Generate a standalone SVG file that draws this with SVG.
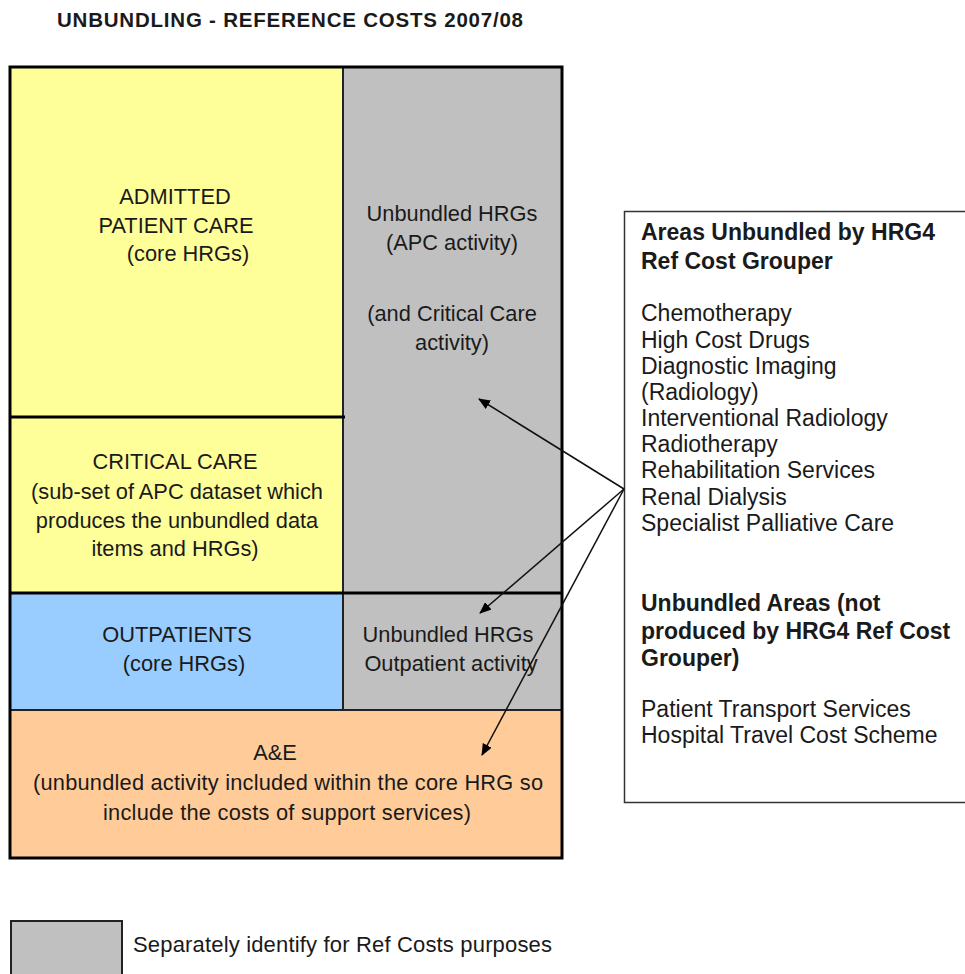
<svg xmlns="http://www.w3.org/2000/svg" width="965" height="974" viewBox="0 0 965 974">
<style>
text{font-family:"Liberation Sans",Arial,sans-serif;fill:#1a1a1a}
.t{font-size:21.8px;text-anchor:middle}
.r{font-size:23px}
.b{font-weight:bold}
.frame{fill:none;stroke:#000;stroke-width:3}
.conn{stroke:#111;stroke-width:1.5;fill:none;marker-end:url(#ah)}
</style>
<defs>
<marker id="ah" viewBox="0 0 12 10" refX="11" refY="5" markerWidth="12" markerHeight="10" markerUnits="userSpaceOnUse" orient="auto">
<path d="M0,0 L12,5 L0,10 z" fill="#000"/>
</marker>
</defs>
<rect width="965" height="974" fill="#fff"/>
<text id="title" x="290" y="27" class="b" font-size="20.5" text-anchor="middle" textLength="466">UNBUNDLING - REFERENCE COSTS 2007/08</text>

<g id="apc">
<rect x="10" y="67" width="333" height="350" fill="#FFFF99"/>
<text class="t" x="175" y="204">ADMITTED</text>
<text class="t" x="176" y="233">PATIENT CARE</text>
<text class="t" x="188" y="261">(core HRGs)</text>
</g>
<g id="unbundled-apc">
<rect x="343" y="67" width="219" height="526" fill="#C0C0C0"/>
<text class="t" x="452" y="221">Unbundled HRGs</text>
<text class="t" x="452" y="250">(APC activity)</text>
<text class="t" x="452" y="321">(and Critical Care</text>
<text class="t" x="452" y="350">activity)</text>
</g>
<g id="critical-care">
<rect x="10" y="417" width="333" height="176" fill="#FFFF99"/>
<text class="t" x="175" y="469">CRITICAL CARE</text>
<text class="t" x="177" y="499">(sub-set of APC dataset which</text>
<text class="t" x="177" y="528">produces the unbundled data</text>
<text class="t" x="175" y="556">items and HRGs)</text>
</g>
<g id="outpatients">
<rect x="10" y="593" width="333" height="117" fill="#99CCFF"/>
<text class="t" x="177" y="642">OUTPATIENTS</text>
<text class="t" x="184" y="671">(core HRGs)</text>
</g>
<g id="unbundled-op">
<rect x="343" y="593" width="219" height="117" fill="#C0C0C0"/>
<text class="t" x="448" y="642">Unbundled HRGs</text>
<text class="t" x="451" y="671">Outpatient activity</text>
</g>
<g id="ae">
<rect x="10" y="710" width="552" height="148" fill="#FFCC99"/>
<text class="t" x="275" y="760">A&amp;E</text>
<text class="t" x="288" y="790" textLength="510">(unbundled activity included within the core HRG so</text>
<text class="t" x="287" y="820" textLength="368">include the costs of support services)</text>
</g>
<g id="grid-lines">
<line x1="343" y1="67" x2="343" y2="710" stroke="#222" stroke-width="2"/>
<line x1="10" y1="417" x2="345" y2="417" stroke="#000" stroke-width="3"/>
<line x1="10" y1="593" x2="562" y2="593" stroke="#000" stroke-width="3"/>
<line x1="10" y1="710" x2="562" y2="710" stroke="#222" stroke-width="2"/>
<rect class="frame" x="10" y="67" width="552" height="791"/>
</g>

<g id="areas-box">
<rect x="624.5" y="211.5" width="350" height="591" fill="#fff" stroke="#333" stroke-width="1.5"/>
<text class="r b" x="641" y="240">Areas Unbundled by HRG4</text>
<text class="r b" x="641" y="269">Ref Cost Grouper</text>
<text class="r" x="641" y="321">Chemotherapy</text>
<text class="r" x="641" y="348">High Cost Drugs</text>
<text class="r" x="641" y="374">Diagnostic Imaging</text>
<text class="r" x="641" y="400">(Radiology)</text>
<text class="r" x="641" y="426">Interventional Radiology</text>
<text class="r" x="641" y="452">Radiotherapy</text>
<text class="r" x="641" y="478">Rehabilitation Services</text>
<text class="r" x="641" y="505">Renal Dialysis</text>
<text class="r" x="641" y="531">Specialist Palliative Care</text>
<text class="r b" x="641" y="611">Unbundled Areas (not</text>
<text class="r b" x="641" y="639">produced by HRG4 Ref Cost</text>
<text class="r b" x="641" y="666">Grouper)</text>
<text class="r" x="641" y="717">Patient Transport Services</text>
<text class="r" x="641" y="743">Hospital Travel Cost Scheme</text>
</g>

<g id="connectors">
<line class="conn" x1="624" y1="489" x2="479" y2="399"/>
<line class="conn" x1="624" y1="489" x2="480" y2="613"/>
<line class="conn" x1="624" y1="489" x2="482" y2="755"/>
</g>

<g id="legend">
<rect x="11" y="921" width="111" height="60" fill="#C0C0C0" stroke="#222" stroke-width="2"/>
<text x="133" y="952" font-size="22" textLength="419">Separately identify for Ref Costs purposes</text>
</g>
</svg>
